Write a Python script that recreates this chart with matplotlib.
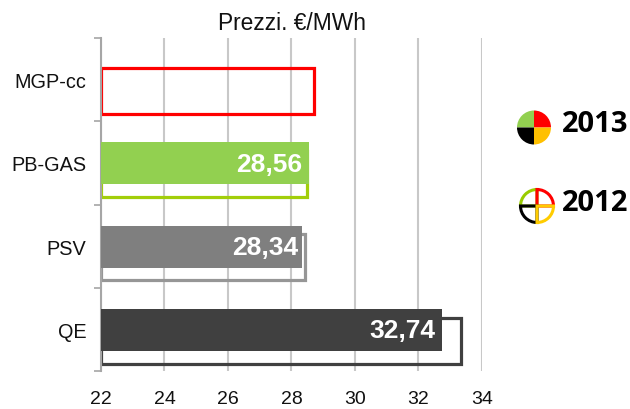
import numpy as np
import matplotlib
matplotlib.use("Agg")
import matplotlib.pyplot as plt
from matplotlib.patches import Wedge

plt.rcParams['font.family'] = ['Liberation Sans', 'DejaVu Sans']

categories = ["MGP-cc", "PB-GAS", "PSV", "QE"]
values_2013 = [np.nan, 28.56, 28.34, 32.74]
values_2012 = [28.72, 28.50, 28.44, 33.35]
labels_2013 = ["", "28,56", "28,34", "32,74"]
colors_2013 = ["#FF0000", "#92D050", "#7F7F7F", "#404040"]
colors_2012 = ["#FF0000", "#A2CE0A", "#969696", "#404040"]
x_ticks = [22, 24, 26, 28, 30, 32, 34]
baseline = 22
legend_years = ["2013", "2012"]
legend_colors = ["#92D050", "#FF0000", "#000000", "#FFC000"]
outline_colors = ["#99CC00", "#FF0000", "#000000", "#FFCC00"]

W, H = 630, 410
fig = plt.figure(figsize=(W / 100, H / 100), dpi=100, facecolor="white")
ax = fig.add_axes([101 / W, 1 - 372 / H, 381 / W, 333 / H])
ax.set_xlim(22, 34)
ax.set_ylim(3.5, -0.5)
ax.set_axisbelow(True)

ypos = np.arange(len(categories))

# Previous year: unfilled outlines sitting slightly below each category centre
ax.barh(ypos + 0.135, np.array(values_2012) - baseline, left=baseline, height=0.555,
        facecolor="none", edgecolor=colors_2012, linewidth=2.3, zorder=2)

# Current year: solid bars with right-aligned value labels
ax.barh(ypos + 0.005, np.array(values_2013) - baseline, left=baseline, height=0.505,
        color=colors_2013, linewidth=0, zorder=3)
label_insets = [0, 5, 3, 5]
for y, v, lab, inset in zip(ypos, values_2013, labels_2013, label_insets):
    if lab:
        ax.annotate(lab, (v, y), xytext=(-inset, -0.5), textcoords="offset points",
                    ha="right", va="center", color="white", fontsize=19,
                    fontweight="bold", zorder=4)

ax.set_xticks(x_ticks)
ax.grid(axis="x", color="#C8C8C8", linewidth=1.5)
ax.tick_params(axis="x", length=0, pad=14, labelsize=14, labelcolor="#111111")

ax.set_yticks(ypos)
ax.set_yticklabels(categories)
ax.tick_params(axis="y", which="major", length=0, pad=10.5, labelsize=14.3, labelcolor="#111111")
ax.set_yticks(np.arange(-0.5, 4), minor=True)
ax.tick_params(axis="y", which="minor", length=5, width=1.2, color="#A6A6A6")

for side in ("top", "right", "bottom"):
    ax.spines[side].set_visible(False)
ax.spines["left"].set_color("#A6A6A6")
ax.spines["left"].set_linewidth(1.5)

fig.text(292 / W, 1 - 24 / H, "Prezzi. €/MWh", ha="center", va="center",
         fontsize=16.4, color="#111111")

# Year key on a pixel-scaled overlay
key = fig.add_axes([0, 0, 1, 1], facecolor="none")
key.set_xlim(0, W)
key.set_ylim(0, H)
key.axis("off")
angles = [(90, 180), (0, 90), (180, 270), (270, 360)]

for c, (a, b) in zip(legend_colors, angles):
    key.add_patch(Wedge((534, H - 128.5), 17, a, b, facecolor=c, edgecolor="none"))
for c, (a, b) in zip(outline_colors, angles):
    key.add_patch(Wedge((537, H - 207), 16.5, a, b, facecolor="none", edgecolor=c, linewidth=2.2))

key.text(562, H - 125, legend_years[0], ha="left", va="center", fontsize=21,
         fontweight="bold", family=["Open Sans", "DejaVu Sans"], color="black")
key.text(562, H - 204, legend_years[1], ha="left", va="center", fontsize=21,
         fontweight="bold", family=["Open Sans", "DejaVu Sans"], color="black")

fig.savefig("out.png", dpi=100)
